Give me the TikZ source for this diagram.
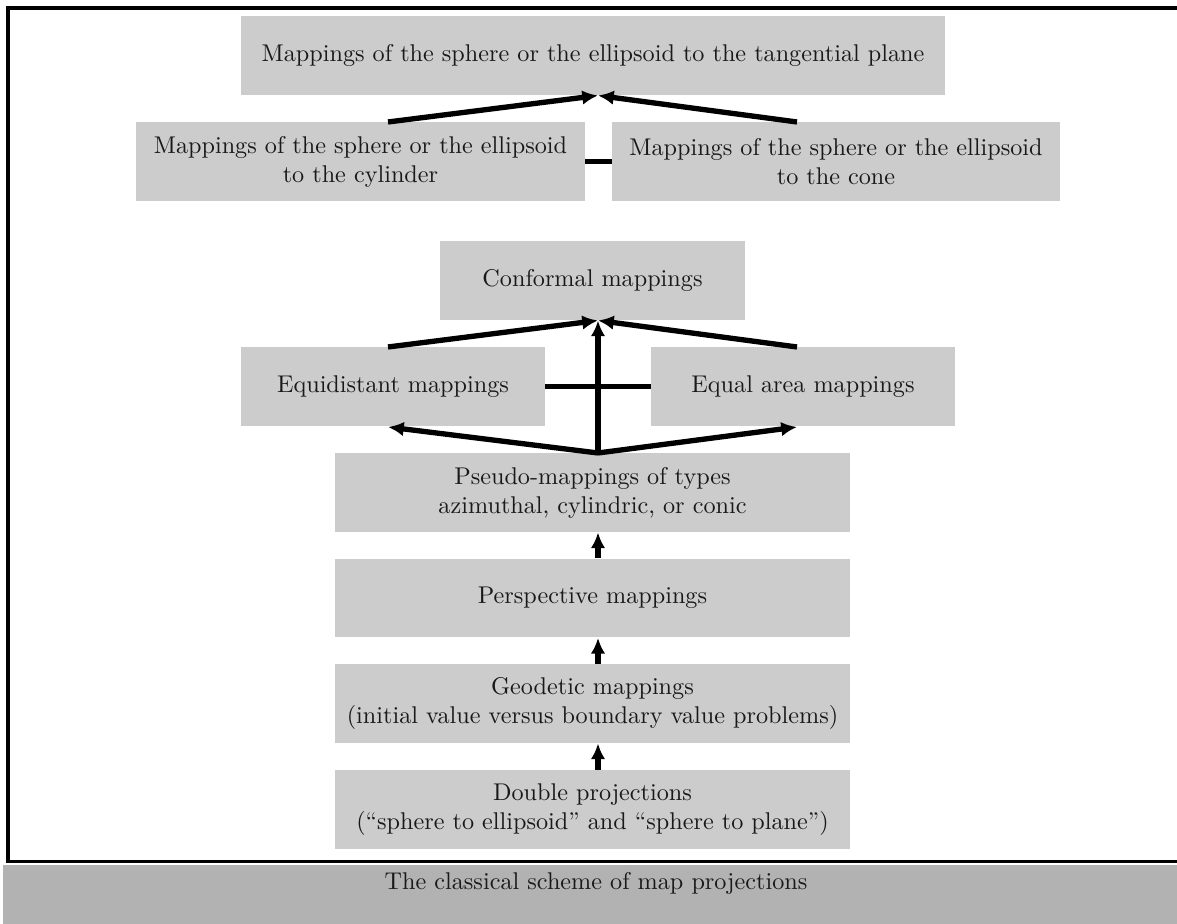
\documentclass[tikz,border=0pt]{standalone}
\usetikzlibrary{arrows.meta,calc}
\begin{document}
\begin{tikzpicture}[x=0.4132pt,y=-0.4132pt,
  box/.style={fill=black!20,inner sep=0pt,align=center,minimum height=32.6pt,text=black!90},
  conn/.style={line width=2.2pt},
  arr/.style={line width=2.2pt,-{Latex[length=6.5pt,width=6pt]}}]
\useasboundingbox (0,0) rectangle (1177,924);
% frame and caption band
\draw[line width=1.4pt] (1200,8) -- (8,8) -- (8,861.5) -- (1200,861.5);
\fill[black!30] (3,864.5) rectangle (1200,930);
\node[text=black!90] (cap) at (596,883) {The classical scheme of map projections};
% top group
\node[box,minimum width=290.9pt] (tan) at (593,55.5) {Mappings of the sphere or the ellipsoid to the tangential plane};
\node[box,minimum width=185.5pt] (cyl) at (360.5,161.5) {Mappings of the sphere or the ellipsoid\\to the cylinder};
\node[box,minimum width=185.1pt] (cone) at (836,161.5) {Mappings of the sphere or the ellipsoid\\to the cone};
\coordinate (t1) at (598,95.5);
\coordinate (c1) at (388,122);
\coordinate (c2) at (797,122);
\draw[conn] (cyl.east) -- (cone.west);
\draw[arr] (c1) -- (t1);
\draw[arr] (c2) -- (t1);
% middle group
\node[box,minimum width=126pt] (conf) at (592.5,280.5) {Conformal mappings};
\node[box,minimum width=125.6pt] (equi) at (393,386.5) {Equidistant mappings};
\node[box,minimum width=125.6pt] (area) at (803,386.5) {Equal area mappings};
\node[box,minimum width=212.8pt] (pseudo) at (592.5,492.5) {Pseudo-mappings of types\\azimuthal, cylindric, or conic};
\node[box,minimum width=212.8pt] (persp) at (592.5,598) {Perspective mappings};
\node[box,minimum width=212.8pt] (geod) at (592.5,703.5) {Geodetic mappings\\(initial value versus boundary value problems)};
\node[box,minimum width=212.8pt] (dbl) at (592.5,809.5) {Double projections\\(``sphere to ellipsoid'' and ``sphere to plane'')};
\coordinate (t2) at (598,320.5);
\coordinate (e1) at (388,347);
\coordinate (e2) at (797,347);
\coordinate (p0) at (598,453);
\coordinate (e3) at (388,427);
\coordinate (e4) at (797,427);
\draw[conn] (equi.east) -- (area.west);
\draw[arr] (e1) -- (t2);
\draw[arr] (e2) -- (t2);
\draw[arr] (p0) -- (t2);
\draw[arr] (p0) -- (e3);
\draw[arr] (p0) -- (e4);
\draw[arr] (persp.north -| p0) -- (pseudo.south -| p0);
\draw[arr] (geod.north -| p0) -- (persp.south -| p0);
\draw[arr] (dbl.north -| p0) -- (geod.south -| p0);
\end{tikzpicture}
\end{document}
